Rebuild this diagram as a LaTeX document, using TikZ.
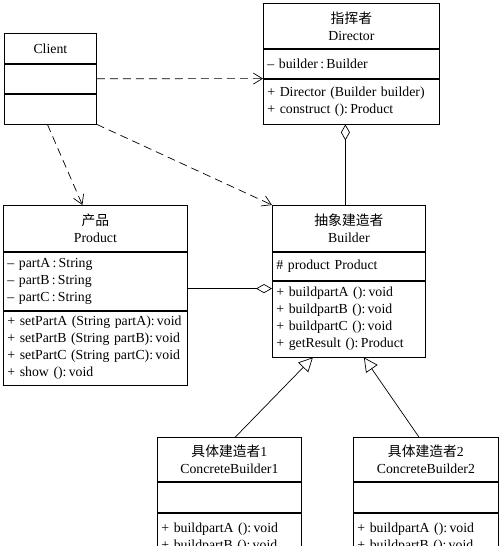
\documentclass[tikz,border=0pt]{standalone}
\usepackage{fontspec}
\setmainfont{Liberation Serif}
\newfontfamily\cjk{Noto Sans CJK SC}
\usetikzlibrary{arrows.meta,positioning,calc}
\tikzstyle{part} = [rectangle, draw, line width=0.8pt, inner xsep=4pt,
    inner ysep=0pt, font=\fontsize{13.8}{17}\selectfont]
\tikzstyle{title} = [part, align=center]
\tikzstyle{members} = [part, align=left]
\tikzstyle{dep} = [line width=0.7pt, dash pattern=on 8pt off 5pt,
    -{Straight Barb[length=9pt,width=11pt]}]
\tikzstyle{agg} = [line width=0.7pt, {Diamond[open,length=16pt,width=9pt]}-]
\tikzstyle{gen} = [line width=0.7pt, -{Triangle[open,length=14pt,width=14pt]}]
\newcommand{\minus}{\textendash\ }

\begin{document}
\begin{tikzpicture}[x=1pt,y=-1pt]
  \useasboundingbox (0,0) rectangle (500,546);
  \clip (0,0) rectangle (500,546);
  % Place nodes
  \node [title, anchor=north west, text width=84pt, minimum height=30pt] (client) at (4,33) {Client};
  \node [members, below=0pt of client, text width=84pt, minimum height=29pt] (client-attr) {};
  \node [members, below=0pt of client-attr, text width=84pt, minimum height=30pt] (client-ops) {};

  \node [title, anchor=north west, text width=168pt, minimum height=45pt] (director) at (263,3)
  {{\cjk 指挥者}\\Director};
  \node [members, below=0pt of director, text width=168pt, minimum height=29pt] (director-attr)
  {\minus builder\,:\,Builder};
  \node [members, below=0pt of director-attr, text width=168pt, minimum height=45pt] (director-ops)
  {+ Director (Builder builder)\\+ construct ():\,Product};

  \node [title, anchor=north west, text width=176pt, minimum height=46pt] (product) at (3,205)
  {{\cjk 产品}\\Product};
  \node [members, below=0pt of product, text width=176pt, minimum height=58pt] (product-attr)
  {\minus partA\,:\,String\\\minus partB\,:\,String\\\minus partC\,:\,String};
  \node [members, below=0pt of product-attr, text width=176pt, minimum height=74pt] (product-ops)
  {+ setPartA (String partA):\,void\\+ setPartB (String partB):\,void\\
   + setPartC (String partC):\,void\\+ show ():\,void};

  \node [title, anchor=north west, text width=145pt, minimum height=46pt] (builder) at (272,205)
  {{\cjk 抽象建造者}\\Builder};
  \node [members, below=0pt of builder, text width=145pt, minimum height=28pt] (builder-attr)
  {\# product Product};
  \node [members, below=0pt of builder-attr, text width=145pt, minimum height=76pt] (builder-ops)
  {+ buildpartA ():\,void\\+ buildpartB ():\,void\\+ buildpartC ():\,void\\
   + getResult ():\,Product};

  \node [title, anchor=north west, text width=136pt, minimum height=44pt] (concrete1) at (157,437)
  {{\cjk 具体建造者}1\\ConcreteBuilder1};
  \node [members, below=0pt of concrete1, text width=136pt, minimum height=30pt] (concrete1-attr) {};
  \node [members, below=0pt of concrete1-attr, text width=136pt, minimum height=50pt] (concrete1-ops)
  {+ buildpartA ():\,void\\+ buildpartB ():\,void};

  \node [title, anchor=north west, text width=137pt, minimum height=44pt] (concrete2) at (353,437)
  {{\cjk 具体建造者}2\\ConcreteBuilder2};
  \node [members, below=0pt of concrete2, text width=137pt, minimum height=30pt] (concrete2-attr) {};
  \node [members, below=0pt of concrete2-attr, text width=137pt, minimum height=50pt] (concrete2-ops)
  {+ buildpartA ():\,void\\+ buildpartB ():\,void};

  % Draw edges
  \draw [dep] (client-attr.east) -- (director-attr.south west);
  \draw [dep] ([xshift=-3pt]client-ops.south) -- ([xshift=-13pt]product.north);
  \draw [dep] (client-ops.south east) -- (builder.north west);
  \draw [agg] ([xshift=-6pt]director-ops.south) -- ([xshift=-6pt]director-ops.south |- builder.north);
  \draw [agg] ([yshift=-8pt]builder-ops.north west) -- ([yshift=-8pt]builder-ops.north west -| product-attr.east);
  \draw [gen] ([xshift=6pt]concrete1.north) -- ([xshift=-36pt]builder-ops.south);
  \draw [gen] ([xshift=-7pt]concrete2.north) -- ([xshift=15pt]builder-ops.south);
\end{tikzpicture}
\end{document}
